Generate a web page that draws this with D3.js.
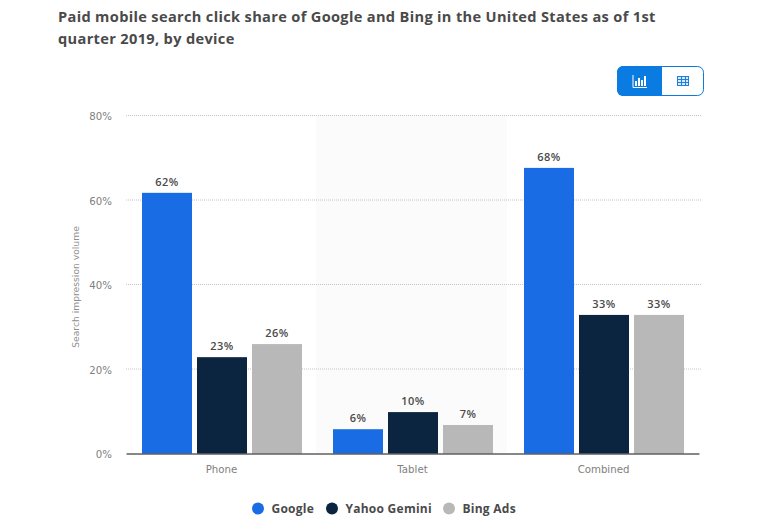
<!DOCTYPE html>
<html>
<head>
<meta charset="utf-8">
<script src="https://cdn.jsdelivr.net/npm/d3@7"></script>
<style>
  html, body { margin: 0; padding: 0; background: #fff; }
  svg { display: block; font-family: "DejaVu Sans", sans-serif; }
</style>
</head>
<body>
<div id="chart"></div>
<script>
// Data (bar heights, labels show them rounded)
const categories = ['Phone', 'Tablet', 'Combined'];
const seriesNames = ['Google', 'Yahoo Gemini', 'Bing Ads'];
const google = [61.7, 5.75, 67.6];
const yahooGemini = [22.8, 9.8, 32.8];
const bingAds = [25.9, 6.75, 32.8];
const yTicks = [0, 20, 40, 60, 80];
const titleLines = [
  'Paid mobile search click share of Google and Bing in the United States as of 1st',
  'quarter 2019, by device'
];

const seriesValues = [google, yahooGemini, bingAds];
const colors = ['#1a6ce5', '#0b2540', '#b8b8b8'];
const boldFont = '"Open Sans", sans-serif';

const svg = d3.select('#chart').append('svg')
  .attr('width', 758)
  .attr('height', 528);

// Title
svg.append('g').selectAll('text')
  .data(titleLines)
  .join('text')
  .attr('x', 58)
  .attr('y', (d, i) => 21.5 + i * 22)
  .attr('font-family', boldFont)
  .attr('font-size', 14.6)
  .attr('font-weight', 'bold')
  .attr('letter-spacing', 0.33)
  .attr('fill', '#4a4a4a')
  .text(d => d);

// Scales
const x = d3.scaleBand().domain(categories).range([126, 699]);
const xInner = d3.scaleBand()
  .domain(seriesNames)
  .range([16, 176])
  .paddingInner(5 / 55);
const y = d3.scaleLinear().domain([0, 80]).range([453.5, 115.5]);

// Tablet band shading
svg.append('rect')
  .attr('x', x('Tablet') - 1)
  .attr('y', y(80))
  .attr('width', x.bandwidth())
  .attr('height', y(0) - y(80))
  .attr('fill', '#fbfbfb');

// Grid
svg.append('g')
  .selectAll('line')
  .data(yTicks.filter(d => d > 0))
  .join('line')
  .attr('x1', 126)
  .attr('x2', 701)
  .attr('y1', d => y(d))
  .attr('y2', d => y(d))
  .attr('stroke', '#c4c4c4')
  .attr('stroke-width', 1)
  .attr('stroke-dasharray', '1 1');

// Y axis labels
const yAxis = svg.append('g')
  .attr('transform', 'translate(112,1)')
  .call(d3.axisLeft(y).tickValues(yTicks).tickSize(0).tickPadding(0).tickFormat(d => d + '%'));
yAxis.select('.domain').remove();
yAxis.selectAll('text')
  .attr('font-size', 10.2)
  .attr('font-family', '"DejaVu Sans", sans-serif')
  .attr('fill', '#808080');

svg.append('text')
  .attr('transform', 'translate(79,287) rotate(-90)')
  .attr('text-anchor', 'middle')
  .attr('font-size', 9.2)
  .attr('fill', '#909090')
  .text('Search impression volume');

// Bars
const groups = svg.append('g').selectAll('g')
  .data(categories)
  .join('g')
  .attr('transform', d => `translate(${x(d)},0)`);

groups.selectAll('rect')
  .data((d, i) => seriesNames.map((name, s) => ({ name, value: seriesValues[s][i], color: colors[s] })))
  .join('rect')
  .attr('x', d => xInner(d.name))
  .attr('y', d => y(d.value))
  .attr('width', xInner.bandwidth())
  .attr('height', d => y(0) - y(d.value))
  .attr('fill', d => d.color);

groups.selectAll('text')
  .data((d, i) => seriesNames.map((name, s) => ({ name, value: seriesValues[s][i] })))
  .join('text')
  .attr('x', d => xInner(d.name) + xInner.bandwidth() / 2)
  .attr('y', d => y(d.value) - 7)
  .attr('text-anchor', 'middle')
  .attr('font-family', boldFont)
  .attr('font-size', 11)
  .attr('font-weight', 600)
  .attr('letter-spacing', 0.4)
  .attr('fill', '#4a4a4a')
  .text(d => Math.round(d.value) + '%');

// X axis
const xAxis = svg.append('g')
  .attr('transform', 'translate(0,453.5)')
  .call(d3.axisBottom(x).tickSize(0).tickPadding(12));
xAxis.select('.domain').attr('stroke', '#111').attr('stroke-width', 1);
xAxis.selectAll('text')
  .attr('font-size', 10.2)
  .attr('font-family', '"DejaVu Sans", sans-serif')
  .attr('fill', '#808080');

// Legend
const legendX = [258, 332, 449];
const legend = svg.append('g').selectAll('g')
  .data(seriesNames)
  .join('g')
  .attr('transform', (d, i) => `translate(${legendX[i]},508.5)`);
legend.append('circle')
  .attr('r', 6)
  .attr('fill', (d, i) => colors[i]);
legend.append('text')
  .attr('x', 13.5)
  .attr('y', 4.5)
  .attr('font-family', boldFont)
  .attr('font-size', 12)
  .attr('font-weight', 'bold')
  .attr('letter-spacing', 0.25)
  .attr('fill', '#4a4a4a')
  .text(d => d);

// Chart / table toggle
const toggle = svg.append('g').attr('transform', 'translate(617,66)');
toggle.append('rect')
  .attr('x', 0.5).attr('y', 0.5)
  .attr('width', 86).attr('height', 29).attr('rx', 6)
  .attr('fill', '#fff').attr('stroke', '#0a7be0');
toggle.append('path')
  .attr('d', 'M6,0H45V30H6A6,6 0 0 1 0,24V6A6,6 0 0 1 6,0Z')
  .attr('fill', '#0a7be0');

// Bar icon
const barIcon = toggle.append('g').attr('stroke', '#fff').attr('fill', 'none');
barIcon.append('path').attr('d', 'M16,9V21.5H30').attr('stroke-width', 1);
barIcon.append('path').attr('d', 'M19,20V15M22,20V12M25,20V14M28,20V10').attr('stroke-width', 2);

// Table icon
const tableIcon = toggle.append('g').attr('stroke', '#1f7fdc').attr('fill', '#d8e9fa');
tableIcon.append('rect').attr('x', 60.5).attr('y', 10.5).attr('width', 11).attr('height', 9);
tableIcon.append('path').attr('fill', 'none')
  .attr('d', 'M60.5,13.5H71.5M60.5,16.5H71.5M64.5,10.5V19.5M68.5,10.5V19.5');
</script>
</body>
</html>
